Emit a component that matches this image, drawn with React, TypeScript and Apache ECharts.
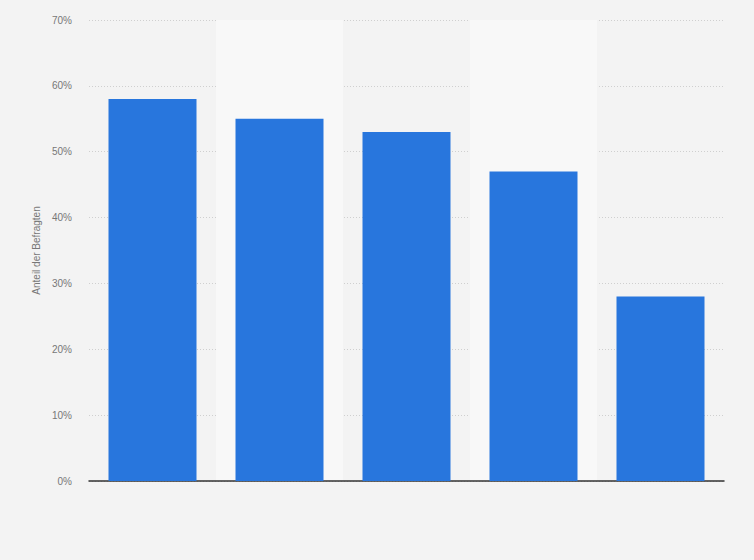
import { useEffect, useRef } from 'react';
import * as echarts from 'echarts';

// Kategorien sind im Bild nicht beschriftet
const categories = ['Antwort 1', 'Antwort 2', 'Antwort 3', 'Antwort 4', 'Antwort 5'];
const shares = [58, 55, 53, 47, 28];
const yTicks = [0, 10, 20, 30, 40, 50, 60, 70];

export default function App() {
  const chartRef = useRef<HTMLDivElement>(null);

  useEffect(() => {
    if (!chartRef.current) return;
    document.body.style.margin = '0';
    const instance = echarts.init(chartRef.current, undefined, { renderer: 'svg' });

    instance.setOption({
      animation: false,
      backgroundColor: '#f3f3f3',
      textStyle: { fontFamily: 'Liberation Sans, Arial, sans-serif' },
      grid: { left: 89, right: 30, top: 20, bottom: 79 },
      xAxis: {
        type: 'category',
        data: categories,
        axisLabel: { show: false },
        axisTick: { show: false },
        axisLine: { lineStyle: { color: '#333', width: 1.5 } },
        splitArea: { show: true, areaStyle: { color: ['rgba(0,0,0,0)', '#f8f8f8'] } },
      },
      yAxis: {
        type: 'value',
        min: yTicks[0],
        max: yTicks[yTicks.length - 1],
        interval: 10,
        name: 'Anteil der Befragten',
        nameLocation: 'middle',
        nameGap: 45,
        nameTextStyle: { fontSize: 10, color: '#777' },
        axisLabel: { formatter: '{value}%', fontSize: 10, color: '#777', margin: 17 },
        axisLine: { show: false },
        axisTick: { show: false },
        splitLine: { lineStyle: { color: '#cfcfcf', type: [1, 2] } },
      },
      series: [
        {
          type: 'bar',
          data: shares,
          barWidth: 88,
          itemStyle: { color: '#2876dd' },
        },
      ],
    });

    return () => instance.dispose();
  }, []);

  return <div ref={chartRef} style={{ width: 754, height: 560 }} />;
}
